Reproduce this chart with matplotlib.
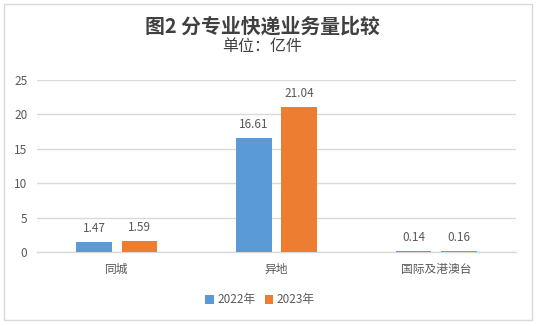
import matplotlib
matplotlib.use("Agg")
import matplotlib.pyplot as plt
from matplotlib.patches import Rectangle
import numpy as np

plt.rcParams['font.family'] = ['Noto Sans CJK SC', 'DejaVu Sans']

categories = ["同城", "异地", "国际及港澳台"]
series_names = ["2022年", "2023年"]
values_2022 = [1.47, 16.61, 0.14]
values_2023 = [1.59, 21.04, 0.16]
yticks = [0, 5, 10, 15, 20, 25]

title = "图2 分专业快递业务量比较"
subtitle = "单位：亿件"

blue = "#5B9BD5"
orange = "#ED7D31"
text_gray = "#595959"
grid_gray = "#D9D9D9"

W, H = 538, 326
fig = plt.figure(figsize=(W / 100, H / 100), dpi=100)
fig.patch.set_facecolor("white")

# chart frame
fig.patches.append(Rectangle((4 / W, 6 / H), 528 / W, 316 / H, transform=fig.transFigure,
                             fill=False, edgecolor="#D9D9D9", linewidth=1.0))

ax = fig.add_axes([37 / W, (H - 252) / H, (516 - 37) / W, (252 - 80) / H])
x = np.arange(len(categories))
bw = 0.2235
off = 0.142
b1 = ax.bar(x - off, values_2022, bw, color=blue, label=series_names[0], zorder=3)
b2 = ax.bar(x + off, values_2023, bw, color=orange, label=series_names[1], zorder=3)

for bars, vals in ((b1, values_2022), (b2, values_2023)):
    for rect, v in zip(bars, vals):
        ax.annotate(f"{v:.2f}", (rect.get_x() + rect.get_width() / 2, v),
                    xytext=(0, 5), textcoords="offset points", ha="center", va="bottom",
                    fontsize=8.5, color=text_gray)

ax.set_xlim(-0.5, 2.5)
ax.set_ylim(0, 25)
ax.set_yticks(yticks)
ax.set_xticks(x)
ax.set_xticklabels(categories)
ax.tick_params(axis="both", length=0, colors=text_gray, labelsize=8.5)
ax.tick_params(axis="x", pad=8)
ax.tick_params(axis="y", pad=7)
ax.yaxis.grid(True, color=grid_gray, linewidth=1.0, zorder=0)
for s in ("top", "right", "left"):
    ax.spines[s].set_visible(False)
ax.spines["bottom"].set_color(grid_gray)
ax.spines["bottom"].set_linewidth(1.0)

fig.text(262 / W, 1 - 26 / H, title, ha="center", va="center", fontsize=14.3,
         fontweight="bold", color="#404040")
fig.text(262 / W, 1 - 47 / H, subtitle, ha="center", va="center", fontsize=11.5,
         color="#404040")

fig.legend(handles=[b1, b2], labels=series_names, loc="center", bbox_to_anchor=(260 / W, 1 - 300 / H),
           ncol=2, frameon=False, fontsize=8.5, handlelength=0.7, handleheight=0.7,
           handletextpad=0.3, columnspacing=0.8, labelcolor=text_gray)

fig.savefig("out.png", dpi=100)
